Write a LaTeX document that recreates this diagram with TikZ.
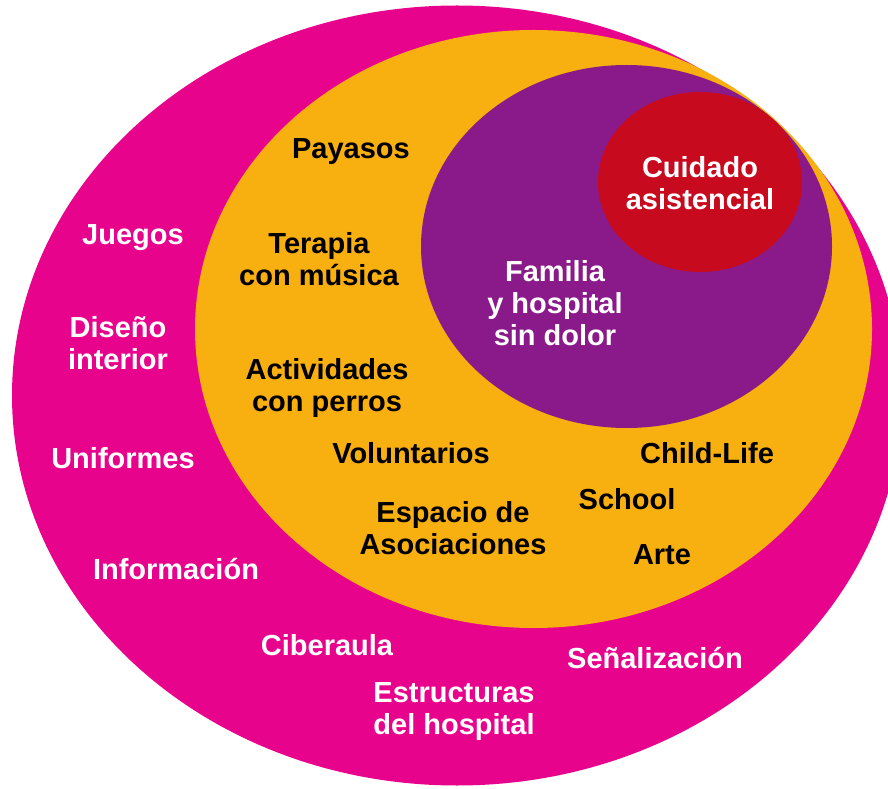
\documentclass[tikz,border=0pt]{standalone}
\usepackage{fontspec}
\setmainfont{Liberation Sans}
\usepackage{tikz}
\usepackage{xcolor}
\definecolor{ringpink}{HTML}{E8038C}
\definecolor{ringorange}{HTML}{F8AF10}
\definecolor{ringpurple}{HTML}{8A1A89}
\definecolor{ringred}{HTML}{C70A1E}
\tikzset{
  lbl/.style={font=\bfseries\fontsize{14.5}{16}\selectfont, align=center, inner sep=0pt},
  blk/.style={lbl, text=black},
  wht/.style={lbl, text=white}
}

\begin{document}
\begin{tikzpicture}[x=0.5pt,y=0.5pt]
\useasboundingbox (0,0) rectangle (888,788);
\clip (0,0) rectangle (888,788);
\fill[ringpink] (457,392.5) ellipse [x radius=445, y radius=390];
\fill[ringorange] (533.5,459) ellipse [x radius=338.5, y radius=299];
\fill[ringpurple] (626.5,541.5) ellipse [x radius=205.5, y radius=181.5];
\fill[ringred] (700,606) ellipse [x radius=102, y radius=90];
% centro
\node[wht] (cuidado) at (700,605) {Cuidado\\asistencial};
\node[wht] (familia) at (555,485) {Familia\\y hospital\\sin dolor};
% anillo naranja
\node[blk] (payasos) at (351,636) {Payasos};
\node[blk] (terapia) at (319,529) {Terapia\\con música};
\node[blk] (perros) at (327,400) {Actividades\\con perros};
\node[blk] (voluntarios) at (411,335) {Voluntarios};
\node[blk] (espacio) at (453,260) {Espacio de\\Asociaciones};
\node[blk] (childlife) at (707,335) {Child-Life};
\node[blk] (school) at (627,289) {School};
\node[blk] (arte) at (662,233) {Arte};
% anillo exterior
\node[wht] (juegos) at (133,550) {Juegos};
\node[wht] (diseno) at (118,445) {Diseño\\interior};
\node[wht] (uniformes) at (123,330) {Uniformes};
\node[wht] (informacion) at (176,219) {Información};
\node[wht] (ciberaula) at (327,143) {Ciberaula};
\node[wht] (senal) at (655,130) {Señalización};
\node[wht] (estructuras) at (454,76) {Estructuras\\del hospital};
\end{tikzpicture}
\end{document}
